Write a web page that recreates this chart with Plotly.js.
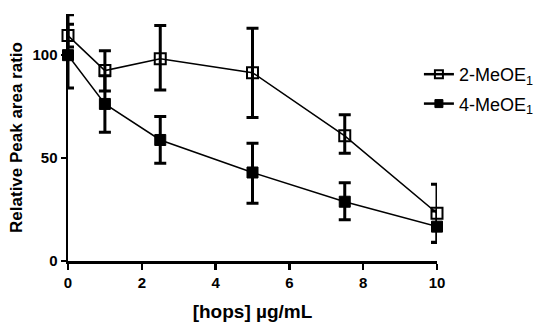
<!DOCTYPE html>
<html><head><meta charset="utf-8">
<script src="https://cdn.plot.ly/plotly-3.0.1.min.js"></script>
<style>html,body{margin:0;padding:0;background:#fff}#c{width:547px;height:322px}</style>
</head><body><div id="c"></div>
<script>
const conc = [0, 1, 2.5, 5, 7.5, 10];
const meo2 = [109.5, 92.5, 98.2, 91.5, 60.8, 23.2];
const meo2Up = [5.5, 9.7, 16.2, 21.6, 10.2, 14.1];
const meo2Down = [5.5, 9.9, 15.1, 21.8, 8.4, 14.1];
const meo4 = [100, 76.3, 58.8, 43, 28.8, 16.7];
const meo4Up = [19.6, 13.7, 11.4, 14.2, 9.2, 7.6];
const meo4Down = [16, 13.7, 11.3, 15, 8.8, 7.7];
const seriesNames = ['2-MeOE<sub>1</sub>', '4-MeOE<sub>1</sub>'];
const xTicks = [0, 2, 4, 6, 8, 10];
const yTicks = [0, 50, 100];

const FONT = 'Arial, Liberation Sans, sans-serif';
const common = {
  type: 'scatter', mode: 'lines+markers', x: conc, cliponaxis: false, showlegend: false,
  line: {color: '#000', width: 1.5}
};
const traces = [
  Object.assign({}, common, {
    name: seriesNames[0], y: meo2,
    marker: {symbol: 'square-open', size: 11, color: '#000', line: {width: 2, color: '#000'}},
    error_y: {type: 'data', symmetric: false, array: meo2Up, arrayminus: meo2Down, color: '#000', thickness: 3, width: 6}
  }),
  Object.assign({}, common, {
    name: seriesNames[1], y: meo4,
    marker: {symbol: 'square', size: 11, color: '#000', line: {width: 1, color: '#000'}},
    error_y: {type: 'data', symmetric: false, array: meo4Up, arrayminus: meo4Down, color: '#000', thickness: 3, width: 6}
  }),
  // legend-only entries (smaller symbols, as in the reference legend)
  {type: 'scatter', mode: 'lines+markers', x: [null], y: [null], name: seriesNames[0], legendgroup: 'a',
   line: {color: '#000', width: 2.5}, marker: {symbol: 'square-open', size: 8, color: '#000', line: {width: 2, color: '#000'}}},
  {type: 'scatter', mode: 'lines+markers', x: [null], y: [null], name: seriesNames[1], legendgroup: 'b',
   line: {color: '#000', width: 2.5}, marker: {symbol: 'square', size: 8, color: '#000', line: {width: 1, color: '#000'}}}
];
const axFont = {family: FONT, size: 15, color: '#000', weight: 'bold'};
const layout = {
  width: 547, height: 322,
  margin: {l: 68, r: 110, t: 14, b: 61, autoexpand: false},
  paper_bgcolor: '#fff', plot_bgcolor: '#fff',
  showlegend: true,
  legend: {x: 0.951, xanchor: 'left', y: 0.83, yanchor: 'top', traceorder: 'grouped', tracegroupgap: 3,
    font: {family: FONT, size: 18, color: '#000'}},
  xaxis: {
    range: [0, 10], tickvals: xTicks, ticktext: xTicks.map(String),
    showgrid: false, zeroline: false, showline: true, linecolor: '#000', linewidth: 2.5,
    ticks: 'outside', ticklen: 6, tickwidth: 2.5, tickcolor: '#000',
    tickfont: axFont,
    title: {text: '[hops] µg/mL', font: {family: FONT, size: 19, color: '#000', weight: 'bold'}, standoff: 16}
  },
  yaxis: {
    range: [0, 120], tickvals: yTicks, ticktext: yTicks.map(String),
    showgrid: false, zeroline: false, showline: true, linecolor: '#000', linewidth: 2.5,
    ticks: 'outside', ticklen: 5, tickwidth: 2.5, tickcolor: '#000',
    tickfont: axFont,
    title: {text: 'Relative Peak area ratio', font: {family: FONT, size: 17, color: '#000', weight: 'bold'}, standoff: 6}
  }
};
Plotly.newPlot('c', traces, layout, {displayModeBar: false, staticPlot: true});
</script></body></html>
